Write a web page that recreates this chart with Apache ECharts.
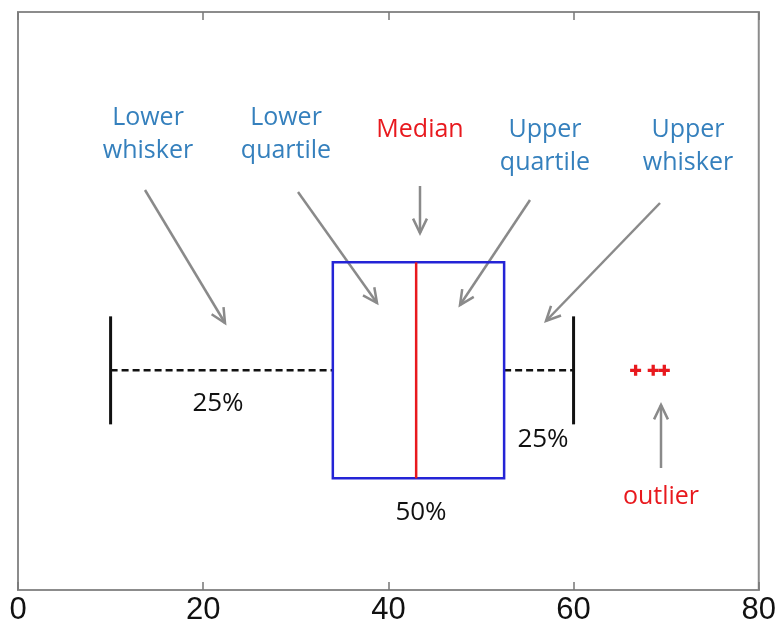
<!DOCTYPE html>
<html>
<head>
<meta charset="utf-8">
<script src="https://cdn.jsdelivr.net/npm/echarts@6/dist/echarts.min.js"></script>
<style>html,body{margin:0;padding:0;background:#fff;}#c{width:779px;height:629px;}</style>
</head>
<body>
<div id="c"></div>
<script>
// ---- data ----
const xTicks = [0, 20, 40, 60, 80];
const lowerWhisker = 10;
const lowerQuartile = 34;
const median = 43;
const upperQuartile = 52.5;
const upperWhisker = 60;
const outliers = [66.7, 68.6, 69.8];
const shareLabels = ['25%', '50%', '25%'];
const annotationLabels = ['Lower\nwhisker', 'Lower\nquartile', 'Median', 'Upper\nquartile', 'Upper\nwhisker', 'outlier'];

// ---- layout / style constants ----
const BOX_Y = 0.38;
const BOX_HALF = 108;
const CAP_HALF = 54;
const BLUE = '#2424d6';
const RED = '#e8191e';
const NOTE_BLUE = '#3580bd';
const GRAY = '#8a8a8a';
const FONT = '"Open Sans", "Noto Sans", sans-serif';

const chart = echarts.init(document.getElementById('c'), null, {renderer: 'canvas'});

function renderBox(params, api) {
  const lw = api.value(0), q1 = api.value(1), md = api.value(2), q3 = api.value(3), uw = api.value(4);
  const pLw = api.coord([lw, BOX_Y]);
  const pQ1 = api.coord([q1, BOX_Y]);
  const pMd = api.coord([md, BOX_Y]);
  const pQ3 = api.coord([q3, BOX_Y]);
  const pUw = api.coord([uw, BOX_Y]);
  const cy = pMd[1];
  return {
    type: 'group',
    children: [
      {type: 'line', shape: {x1: pLw[0], y1: cy, x2: pQ1[0], y2: cy}, style: {stroke: '#111', lineWidth: 2.5, lineDash: [7, 4]}},
      {type: 'line', shape: {x1: pQ3[0], y1: cy, x2: pUw[0], y2: cy}, style: {stroke: '#111', lineWidth: 2.5, lineDash: [7, 4]}},
      {type: 'line', shape: {x1: pLw[0], y1: cy - CAP_HALF, x2: pLw[0], y2: cy + CAP_HALF}, style: {stroke: '#111', lineWidth: 3}},
      {type: 'line', shape: {x1: pUw[0], y1: cy - CAP_HALF, x2: pUw[0], y2: cy + CAP_HALF}, style: {stroke: '#111', lineWidth: 3}},
      {type: 'rect', shape: {x: pQ1[0], y: cy - BOX_HALF, width: pQ3[0] - pQ1[0], height: 2 * BOX_HALF}, style: {fill: 'none', stroke: BLUE, lineWidth: 2.5}},
      {type: 'line', shape: {x1: pMd[0], y1: cy - BOX_HALF, x2: pMd[0], y2: cy + BOX_HALF}, style: {stroke: RED, lineWidth: 2.5}}
    ]
  };
}

function arrow(x1, y1, x2, y2) {
  const a = Math.atan2(y2 - y1, x2 - x1);
  const L = 16, s = Math.PI / 7;
  const h1 = [x2 - L * Math.cos(a - s), y2 - L * Math.sin(a - s)];
  const h2 = [x2 - L * Math.cos(a + s), y2 - L * Math.sin(a + s)];
  return {
    type: 'group',
    children: [
      {type: 'line', shape: {x1: x1, y1: y1, x2: x2, y2: y2}, style: {stroke: GRAY, lineWidth: 2.5}},
      {type: 'polyline', shape: {points: [h1, [x2, y2], h2]}, style: {stroke: GRAY, lineWidth: 2.5, fill: null}}
    ]
  };
}

function note(text, x, y, color, size) {
  return {
    type: 'text', x: x, y: y,
    style: {text: text, fill: color, font: (size || 25) + 'px ' + FONT, align: 'center', verticalAlign: 'middle', lineHeight: 33}
  };
}

const option = {
  animation: false,
  backgroundColor: '#fff',
  grid: {left: 18, right: 15, top: 12, bottom: 39, show: true, borderColor: '#8c8c8c', borderWidth: 2},
  xAxis: [
    {
      type: 'value', min: xTicks[0], max: xTicks[xTicks.length - 1], interval: 20, position: 'bottom',
      axisLine: {show: true, lineStyle: {color: '#8c8c8c', width: 2}},
      axisTick: {show: true, inside: true, length: 8, lineStyle: {color: '#777', width: 1.5}},
      axisLabel: {color: '#111', fontSize: 31, fontFamily: '"Liberation Sans", Arial, sans-serif', margin: 5,
        formatter: v => xTicks.indexOf(v) >= 0 ? String(v) : ''},
      splitLine: {show: false}
    },
    {
      type: 'value', min: xTicks[0], max: xTicks[xTicks.length - 1], interval: 20, position: 'top',
      axisLine: {show: true, lineStyle: {color: '#8c8c8c', width: 2}},
      axisTick: {show: true, inside: true, length: 8, lineStyle: {color: '#777', width: 1.5}},
      axisLabel: {show: false},
      splitLine: {show: false}
    }
  ],
  yAxis: {type: 'value', min: 0, max: 1, show: false},
  series: [
    {
      type: 'custom',
      xAxisIndex: 0,
      renderItem: renderBox,
      encode: {x: [0, 1, 2, 3, 4]},
      data: [[lowerWhisker, lowerQuartile, median, upperQuartile, upperWhisker]],
      silent: true
    },
    {
      type: 'scatter',
      xAxisIndex: 0,
      symbol: 'path://M3.5,0H6.5V3.5H10V6.5H6.5V10H3.5V6.5H0V3.5H3.5Z',
      symbolSize: 11,
      itemStyle: {color: RED, opacity: 1},
      data: outliers.map(v => [v, BOX_Y]),
      silent: true
    }
  ]
};
chart.setOption(option);

const graphics = [
  note(annotationLabels[0], 148, 134, NOTE_BLUE),
  note(annotationLabels[1], 286, 134, NOTE_BLUE),
  note(annotationLabels[2], 420, 130, RED),
  note(annotationLabels[3], 545, 146, NOTE_BLUE),
  note(annotationLabels[4], 688, 146, NOTE_BLUE),
  note(annotationLabels[5], 661, 497, RED),
  note(shareLabels[0], 218, 404, '#111', 26),
  note(shareLabels[1], 421, 513, '#111', 26),
  note(shareLabels[2], 543, 440, '#111', 26),
  arrow(145, 190, 225, 323),
  arrow(298, 192, 377, 303),
  arrow(420, 186, 420, 233),
  arrow(530, 200, 460, 305),
  arrow(660, 203, 546, 321),
  arrow(661, 468, 661, 405)
];
chart.setOption({graphic: graphics});
</script>
</body>
</html>
